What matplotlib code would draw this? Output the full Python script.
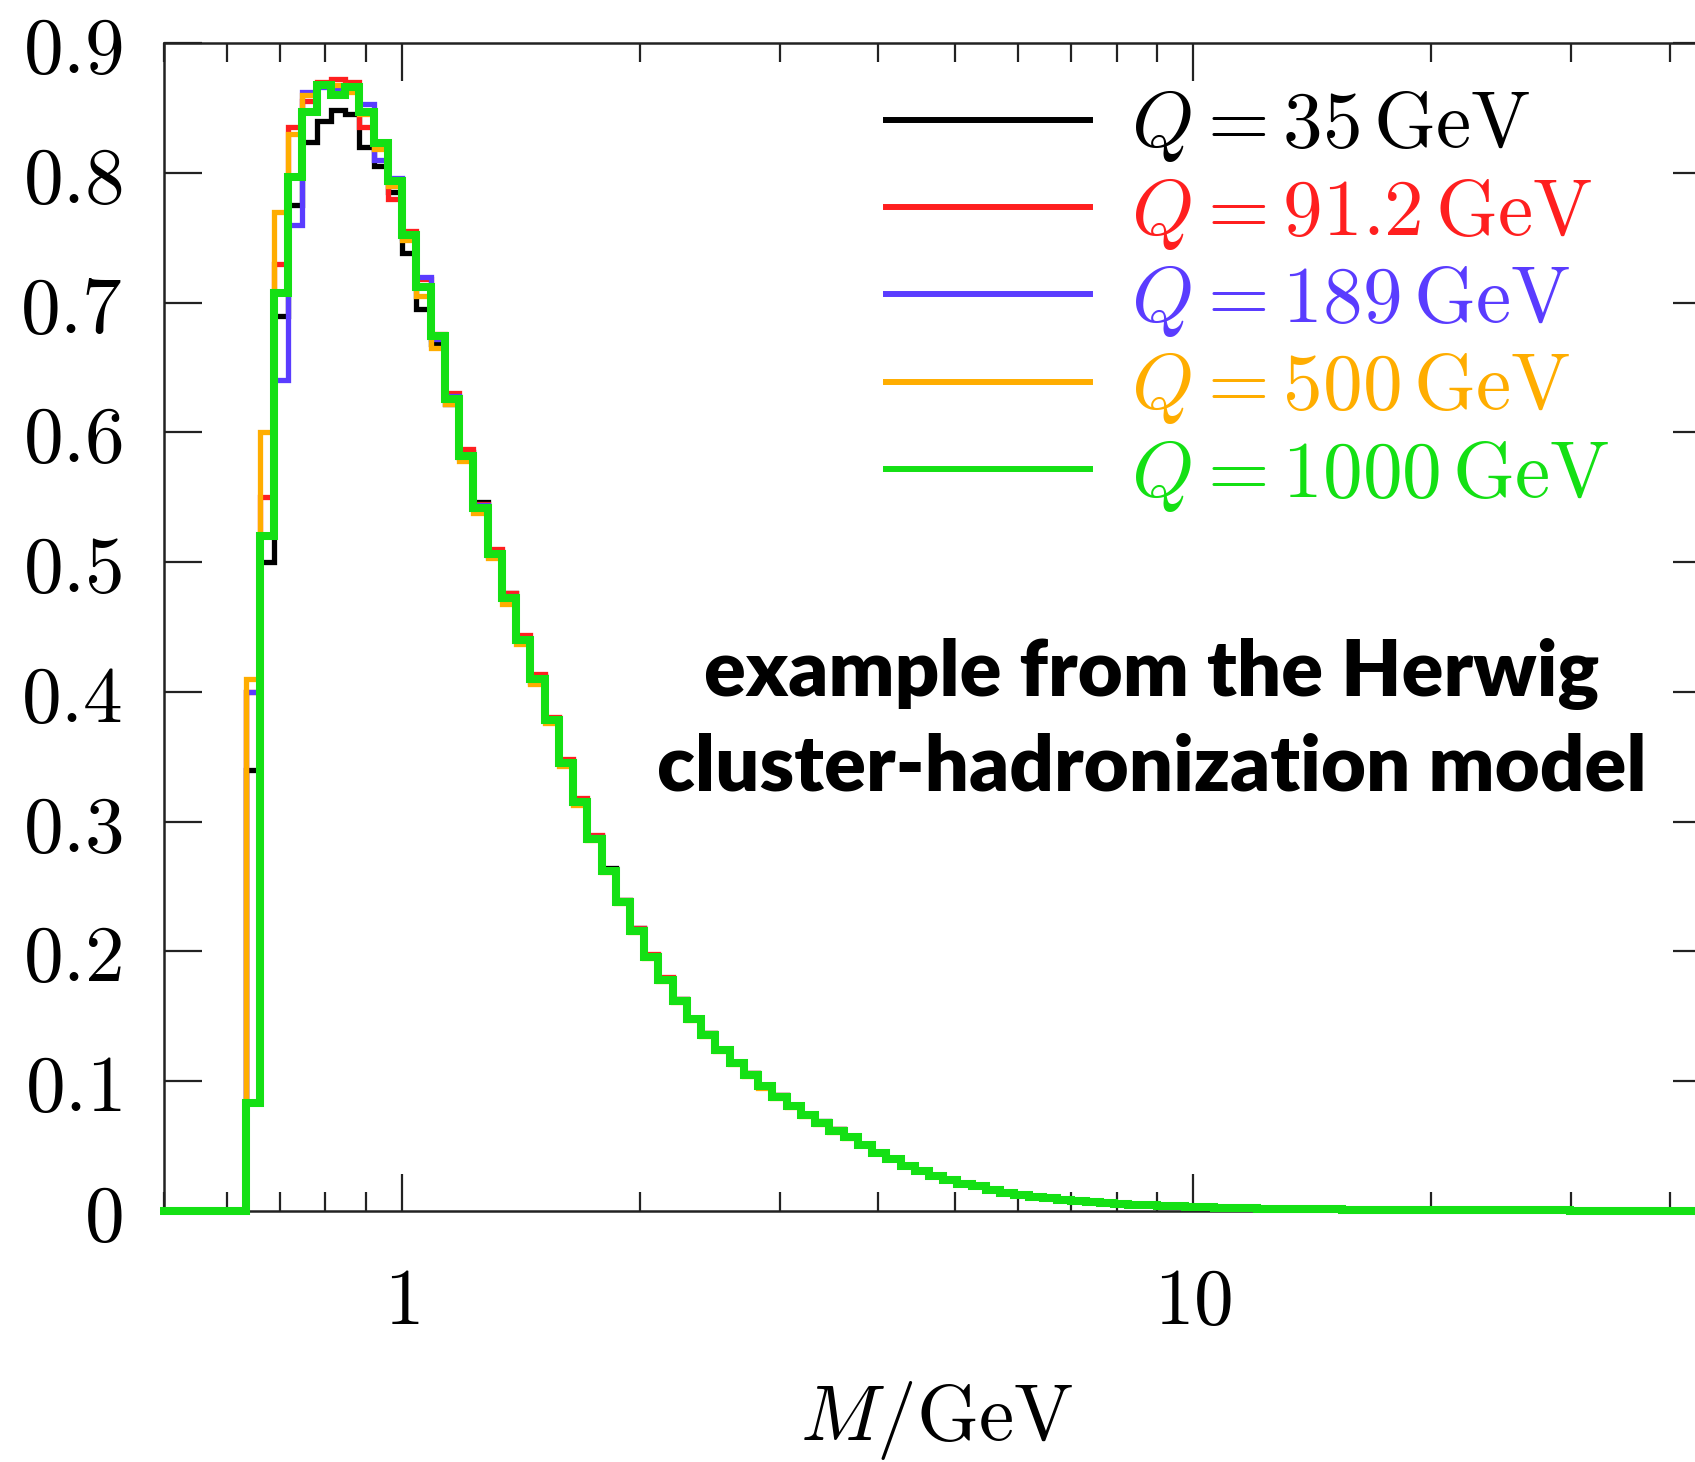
import numpy as np
import matplotlib
matplotlib.use('Agg')
import matplotlib.pyplot as plt
from matplotlib.ticker import FixedLocator, FuncFormatter, LogLocator, NullFormatter

plt.rcParams['mathtext.fontset'] = 'cm'

# histogram bins are uniform in log10(M): width 0.018, first edge at 10**(-17*0.018)
bin_step = 0.018
first_bin = -17

labels = [r'$Q = 35\,\mathrm{GeV}$', r'$Q = 91.2\,\mathrm{GeV}$', r'$Q = 189\,\mathrm{GeV}$',
          r'$Q = 500\,\mathrm{GeV}$', r'$Q = 1000\,\mathrm{GeV}$']
colors = ['#000000', '#ff1f1f', '#5a3cff', '#ffad00', '#14e014']

# empty bins below threshold (M < 0.63 GeV)
below_threshold = [0, 0, 0, 0, 0, 0]

# bins from M = 0.63 GeV up to ~3.8 GeV, read per energy
q35 = [0.34, 0.50, 0.69, 0.775, 0.824, 0.840, 0.848, 0.845, 0.820, 0.805, 0.785, 0.738, 0.695,
       0.668, 0.622, 0.585, 0.546, 0.508, 0.476, 0.441, 0.412, 0.380, 0.347, 0.317, 0.289, 0.264,
       0.240, 0.218, 0.197, 0.179, 0.163, 0.149, 0.137, 0.125, 0.115, 0.106, 0.097, 0.089, 0.082,
       0.075, 0.069, 0.063, 0.058]
q91 = [0.40, 0.55, 0.73, 0.835, 0.855, 0.870, 0.872, 0.870, 0.835, 0.820, 0.780, 0.755, 0.718,
       0.676, 0.630, 0.587, 0.545, 0.510, 0.476, 0.444, 0.414, 0.381, 0.348, 0.318, 0.290, 0.263,
       0.240, 0.218, 0.198, 0.180, 0.163, 0.149, 0.137, 0.125, 0.115, 0.106, 0.097, 0.089, 0.082,
       0.075, 0.068, 0.063, 0.058]
q189 = [0.40, 0.52, 0.64, 0.760, 0.862, 0.866, 0.865, 0.864, 0.853, 0.810, 0.796, 0.750, 0.720,
        0.672, 0.628, 0.580, 0.544, 0.505, 0.474, 0.440, 0.408, 0.379, 0.346, 0.316, 0.288, 0.262,
        0.239, 0.217, 0.196, 0.178, 0.162, 0.148, 0.136, 0.124, 0.114, 0.105, 0.096, 0.088, 0.081,
        0.074, 0.068, 0.062, 0.057]
q500 = [0.41, 0.60, 0.77, 0.830, 0.860, 0.868, 0.868, 0.862, 0.845, 0.818, 0.790, 0.748, 0.705,
        0.665, 0.622, 0.578, 0.538, 0.503, 0.468, 0.437, 0.406, 0.376, 0.343, 0.313, 0.286, 0.261,
        0.237, 0.215, 0.195, 0.177, 0.161, 0.147, 0.135, 0.123, 0.113, 0.104, 0.095, 0.087, 0.080,
        0.073, 0.067, 0.061, 0.056]
q1000 = [0.083, 0.52, 0.707, 0.797, 0.847, 0.868, 0.860, 0.866, 0.847, 0.823, 0.794, 0.752, 0.712,
         0.674, 0.626, 0.582, 0.542, 0.506, 0.472, 0.440, 0.410, 0.378, 0.345, 0.315, 0.287, 0.262,
         0.238, 0.216, 0.196, 0.178, 0.162, 0.148, 0.136, 0.124, 0.114, 0.105, 0.096, 0.088, 0.081,
         0.074, 0.068, 0.062, 0.057]

# high-mass tail, identical for all energies within line width
tail = [0.051, 0.045, 0.040, 0.035, 0.031, 0.027, 0.024, 0.021, 0.019, 0.016, 0.014, 0.0125,
        0.011, 0.0098, 0.0088, 0.0078, 0.0069, 0.0061, 0.0054, 0.0048, 0.0043, 0.0039, 0.0035,
        0.0032, 0.0029, 0.0026, 0.0023, 0.0021, 0.0019, 0.0017, 0.0016, 0.0014, 0.0013, 0.0012,
        0.0011, 0.0010, 0.0009, 0.0008, 0.0008, 0.0007, 0.0007, 0.0006, 0.0006, 0.0005, 0.0005,
        0.0005, 0.0004, 0.0004, 0.0004, 0.0004, 0.0003, 0.0003, 0.0003, 0.0003, 0.0003, 0.0002,
        0.0002, 0.0002, 0.0002, 0.0002, 0.0002, 0.0002, 0.0002]

yticks = [0, 0.1, 0.2, 0.3, 0.4, 0.5, 0.6, 0.7, 0.8, 0.9]

fs = 57
fig = plt.figure(figsize=(16.95, 14.62), dpi=100)
ax = fig.add_axes([164 / 1695, 251 / 1462, 1546 / 1695, 1168 / 1462])

widths = [3.8, 3.8, 3.8, 3.8, 5.8]
for vals, col, lab, lw in zip([q35, q91, q189, q500, q1000], colors, labels, widths):
    y = np.array(below_threshold + vals + tail)
    edges = 10 ** (bin_step * (first_bin + np.arange(len(y) + 1)))
    ax.stairs(y, edges, color=col, lw=lw, label=lab, zorder=3, clip_on=False)

ax.set_xscale('log')
ax.set_xlim(0.5, 45)
ax.set_ylim(0, 0.9)

ax.yaxis.set_major_locator(FixedLocator(yticks))
ax.yaxis.set_major_formatter(FuncFormatter(lambda v, p: '$%g$' % round(v, 2)))
ax.xaxis.set_major_locator(LogLocator(base=10))
ax.xaxis.set_minor_locator(LogLocator(base=10, subs=np.arange(2, 10)))
ax.xaxis.set_major_formatter(FuncFormatter(lambda v, p: '$%g$' % v))
ax.xaxis.set_minor_formatter(NullFormatter())

ax.tick_params(which='both', direction='in', top=True, right=True, width=1.6, color='#222222')
ax.tick_params(which='major', length=27, labelsize=fs)
ax.tick_params(which='minor', length=14)
ax.tick_params(axis='y', pad=30)
ax.tick_params(axis='x', pad=38)
for s in ax.spines.values():
    s.set_linewidth(1.8)
    s.set_color('#222222')

ax.set_xlabel(r'$M/\mathrm{GeV}$', fontsize=fs, labelpad=28)

leg = ax.legend(loc='upper left', bbox_to_anchor=(0.467, 0.962), frameon=False, fontsize=fs,
                handlelength=2.58, handletextpad=0.52, labelspacing=0.13, borderpad=0,
                borderaxespad=0, labelcolor='linecolor')
for h in leg.legend_handles:
    h.set_linewidth(4.3)

fig.text(1152 / 1695, 1 - 721 / 1462, 'example from the Herwig\ncluster-hadronization model',
         fontsize=56, fontweight='heavy', family='Lato', ha='center', va='center',
         multialignment='center', linespacing=1.38)

fig.savefig('out.png', dpi=100)
